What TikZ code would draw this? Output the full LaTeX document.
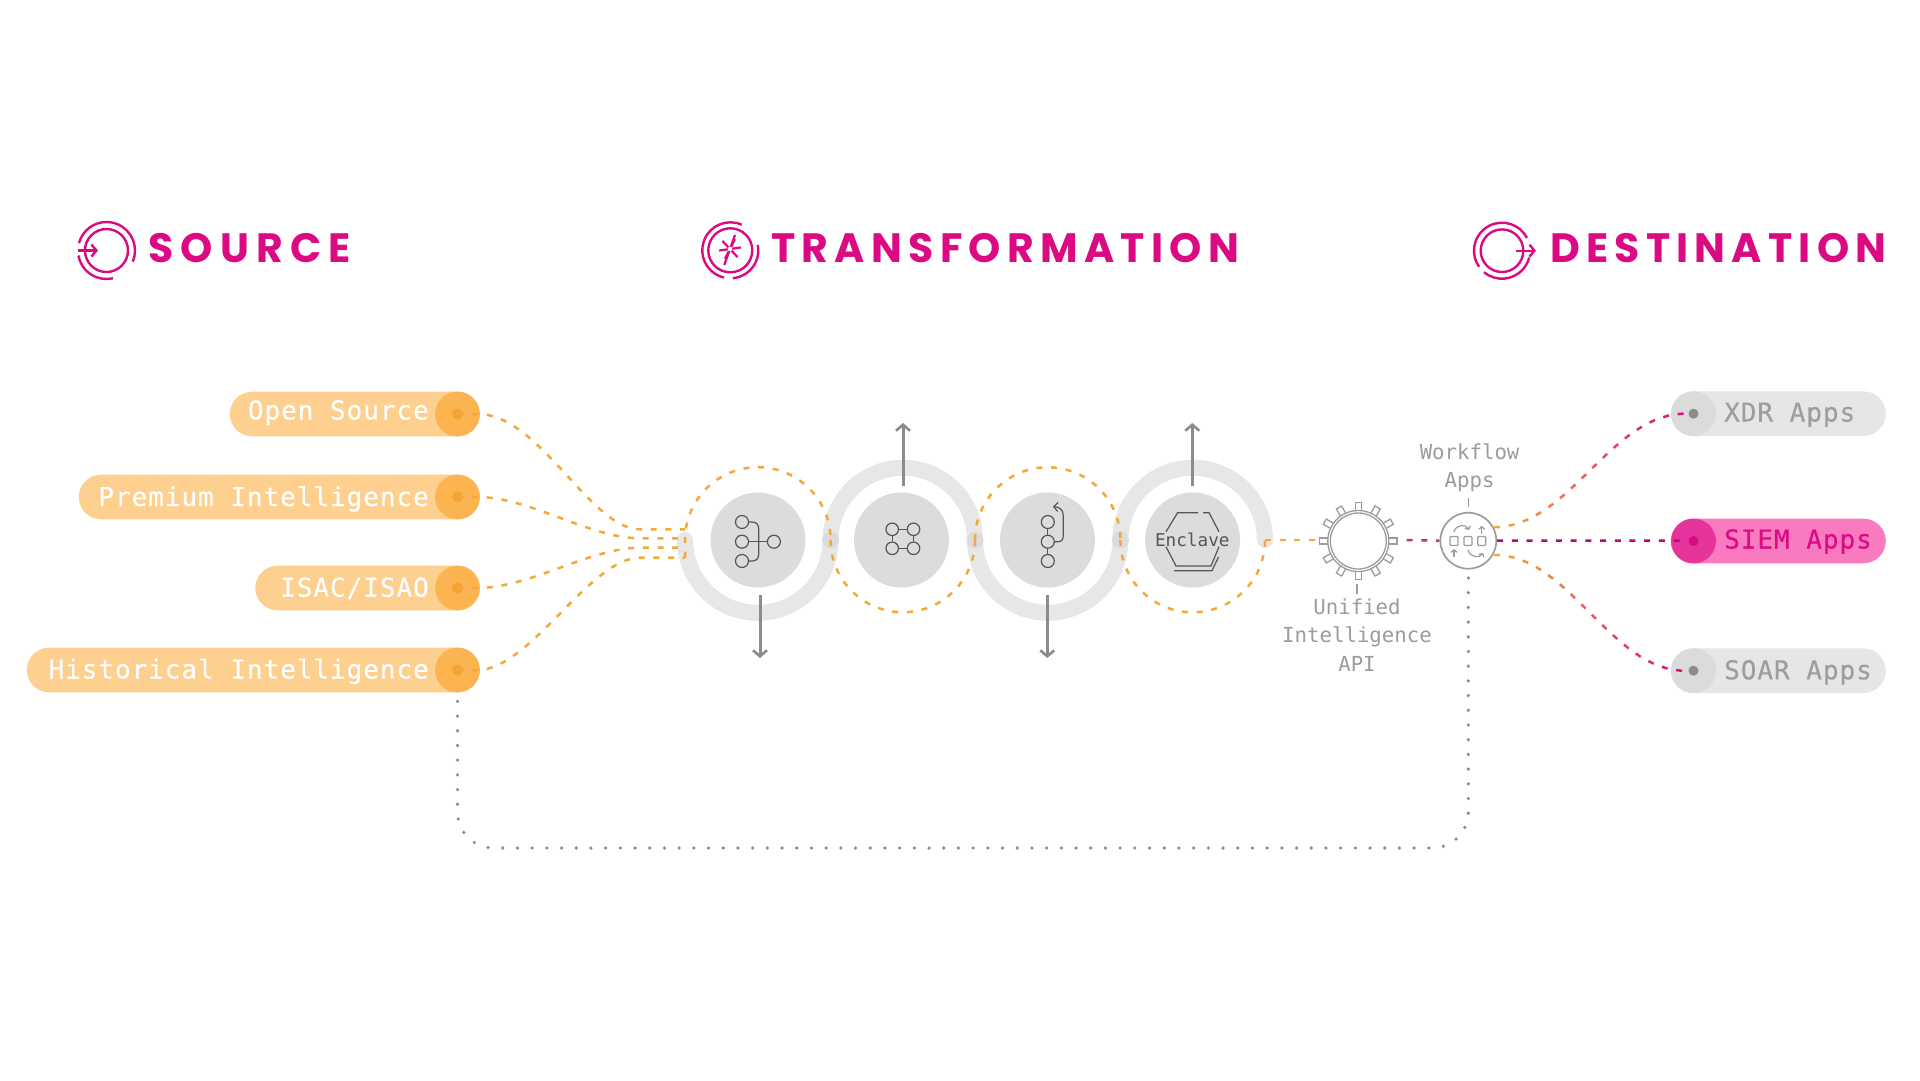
\documentclass[tikz,border=0pt]{standalone}
\usepackage{fontspec}
\usetikzlibrary{arrows.meta,decorations.markings}
\newfontfamily\headfonta[LetterSpace=17.7]{Poppins}
\newfontfamily\headfontb[LetterSpace=15.4]{Poppins}
\newfontfamily\headfontc[LetterSpace=15.2]{Poppins}
\newfontfamily\monofont{DejaVu Sans Mono}
\newfontfamily\pillfont[LetterSpace=3.7,FakeBold=0.25]{DejaVu Sans Mono}
\definecolor{orangec}{HTML}{F4A83A}
\definecolor{pinkc}{HTML}{DC0A82}
\definecolor{ribbon}{HTML}{E7E7E7}
\definecolor{disk}{HTML}{DCDCDC}
\definecolor{arrowgray}{HTML}{8C8C8C}
\definecolor{linegray}{HTML}{9C9C9C}
\definecolor{icongray}{HTML}{555555}
\definecolor{pillor}{HTML}{FDD08F}
\definecolor{capor}{HTML}{FBB44F}
\definecolor{dotor}{HTML}{F6A330}
\definecolor{pillgr}{HTML}{E6E6E6}
\definecolor{capgr}{HTML}{DBDBDB}
\definecolor{pillpk}{HTML}{F97ABF}
\definecolor{cappk}{HTML}{E5349B}
\tikzset{
  head/.style={anchor=base west,inner sep=0pt,text=pinkc},
  logo/.style={draw=pinkc,line width=2.4pt},
  pill/.style={rectangle,rounded corners=22.3pt,minimum height=44.6pt,inner sep=0pt,anchor=east,fill=#1},
  cap/.style={circle,minimum size=44.8pt,inner sep=0pt,fill=#1},
  pdot/.style={circle,minimum size=11pt,inner sep=0pt,fill=#1},
  pilltext/.style={inner sep=0pt,text=#1,font=\pillfont\fontsize{26}{26}\selectfont},
  sidetext/.style={inner sep=0pt,text=linegray,align=center,font=\monofont\fontsize{20.7}{28.3}\selectfont},
  dashline/.style={line width=2.5pt,dash pattern=on 6pt off 8.7pt,draw=#1},
  ribbonarc/.style={draw=ribbon,line width=16pt,line cap=round},
  gdisk/.style={circle,fill=disk,minimum size=95pt,inner sep=0pt},
  joint/.style={circle,fill=disk,minimum size=17pt,inner sep=0pt},
  outarrow/.style={draw=arrowgray,line width=3pt,-{Straight Barb[length=6pt,width=14pt,line width=2.6pt]}},
  icon/.style={draw=icongray,line width=1.2pt},
  iconc/.style={circle,draw=icongray,line width=1.2pt,minimum size=13pt,inner sep=0pt},
  gearline/.style={draw=linegray,line width=1.3pt},
  gradline/.style={postaction={decorate},decoration={markings,
    mark=between positions 0 and 1 step 14.7pt with {
      \pgfmathsetmacro\cmix{min(100,100*(\pgfkeysvalueof{/pgf/decoration/mark info/distance from start}/\pgfdecoratedpathlength))}
      \draw[line width=2.5pt,color=pinkc!\cmix!orangec] (0pt,0pt) -- (6pt,0pt);
    }}},
}
\begin{document}
\begin{tikzpicture}[x=1pt,y=-1pt]
\useasboundingbox (0,0) rectangle (1920,1080);
\fill[white] (0,0) rectangle (1920,1080);

% Headings
\node[head,font=\headfonta\bfseries\fontsize{41}{41}\selectfont] (hsource) at (148,262) {SOURCE};
\node[head,font=\headfontb\bfseries\fontsize{41}{41}\selectfont] (htrans) at (771,262) {TRANSFORMATION};
\node[head,font=\headfontc\bfseries\fontsize{41}{41}\selectfont] (hdest) at (1550,262) {DESTINATION};

% Source logo
\draw[logo] (106.5,250.5) circle[radius=21.5pt];
\draw[logo] (106.5,250.5) ++(-23:28.5pt) arc[start angle=-23,end angle=165,radius=28.5pt];
\draw[logo] (106.5,250.5) ++(190:28.5pt) arc[start angle=190,end angle=283,radius=28.5pt];
\draw[logo,-{Straight Barb[length=5pt,width=12pt]}] (78,250.5) -- (98,250.5);

% Transformation logo
\draw[logo] (730.3,250.3) circle[radius=22pt];
\draw[logo] (730.3,250.3) ++(66:28pt) arc[start angle=66,end angle=257,radius=28pt];
\draw[logo] (730.3,250.3) ++(275:28pt) arc[start angle=275,end angle=371,radius=28pt];
\draw[draw=pinkc,line width=2.2pt] (735,235) -- (724.3,265);
\foreach \a in {0,55,125,180,235,305}{
  \draw[draw=pinkc,line width=2.2pt] (730,249) ++(\a+8:11pt) -- (730,249);
}
\fill[white] (730,249) circle[radius=2.3pt];

% Destination logo
\draw[logo] (1502,250.7) circle[radius=21.3pt];
\draw[logo] (1502,250.7) ++(27:28pt) arc[start angle=27,end angle=215,radius=28pt];
\draw[logo] (1502,250.7) ++(230:28pt) arc[start angle=230,end angle=346,radius=28pt];
\draw[logo,-{Straight Barb[length=5pt,width=12pt]}] (1516,250.7) -- (1536,250.7);

% Dotted return line
\coordinate (dotA) at (1468.3,578);
\coordinate (dotB) at (1468.3,848);
\coordinate (dotC) at (457.5,848);
\draw[draw=arrowgray,line width=3.6pt,line cap=round,dash pattern=on 0pt off 14.7pt,rounded corners=36pt]
  (dotA) -- (dotB) -- (dotC) -- (457.5,670);

% Source pills
\node[pill=pillor,minimum width=250pt] (p1) at (480,414) {};
\node[pill=pillor,minimum width=401pt] (p2) at (480,497) {};
\node[pill=pillor,minimum width=224.5pt] (p3) at (480,588) {};
\node[pill=pillor,minimum width=453pt] (p4) at (480,670) {};
\foreach \n/\y in {1/414,2/497,3/588,4/670}{
  \node[cap=capor] (c\n) at (457.5,\y) {};
  \node[pdot=dotor] (d\n) at (457.5,\y) {};
}
\node[pilltext=white,anchor=base east] (t1) at (429,419.5) {Open Source};
\node[pilltext=white,anchor=base east] (t2) at (429,506) {Premium Intelligence};
\node[pilltext=white,anchor=base east] (t3) at (429,596.7) {ISAC/ISAO};
\node[pilltext=white,anchor=base east] (t4) at (429,678.5) {Historical Intelligence};

% Ribbon
\coordinate (j0) at (685,540);
\coordinate (j1) at (830.6,540);
\coordinate (j2) at (975,540);
\coordinate (j3) at (1120.4,540);
\coordinate (j4) at (1265,540);
\draw[ribbonarc] (j0) arc[start angle=180,end angle=360,radius=72.8pt];
\draw[ribbonarc] (j1) arc[start angle=180,end angle=0,radius=72.2pt];
\draw[ribbonarc] (j2) arc[start angle=180,end angle=360,radius=72.7pt];
\draw[ribbonarc] (j3) arc[start angle=180,end angle=0,radius=72.3pt];
\foreach \j in {j1,j2,j3}{ \node[joint] at (\j) {}; }

% Disks
\node[gdisk] (k1) at (758,540) {};
\node[gdisk] (k2) at (901.5,540) {};
\node[gdisk] (k3) at (1047.5,540) {};
\node[gdisk] (k4) at (1192.6,540) {};

% Dashed arcs
\coordinate (i1) at (685,529.3);
\coordinate (i2) at (685,538.3);
\coordinate (i3) at (685,547.7);
\coordinate (i4) at (685,557.7);
\draw[dashline=orangec] (i4) -- (j0) arc[start angle=180,end angle=0,radius=72.8pt];
\draw[dashline=orangec] (j1) arc[start angle=180,end angle=360,radius=72.2pt];
\draw[dashline=orangec] (j2) arc[start angle=180,end angle=0,radius=72.7pt];
\draw[dashline=orangec] (j3) arc[start angle=180,end angle=360,radius=72.3pt];

% Source connectors
\draw[dashline=orangec] (d1.center) -- ++(20,0) .. controls (540,414) and (590,529.3) .. (640,529.3) -- (i1);
\draw[dashline=orangec] (d2.center) -- ++(20,0) .. controls (530,497) and (590,538.3) .. (640,538.3) -- (i2);
\draw[dashline=orangec] (d3.center) -- ++(20,0) .. controls (530,588) and (590,547.7) .. (640,547.7) -- (i3);
\draw[dashline=orangec] (d4.center) -- ++(20,0) .. controls (530,670) and (590,557.7) .. (640,557.7) -- (i4);

% Output arrows
\coordinate (a1) at (760,595);  \coordinate (a1e) at (760,658);
\coordinate (a2) at (903,486);  \coordinate (a2e) at (903,423);
\coordinate (a3) at (1047.3,595); \coordinate (a3e) at (1047.3,658);
\coordinate (a4) at (1192.3,486); \coordinate (a4e) at (1192.3,423);
\draw[outarrow] (a1) -- (a1e);
\draw[outarrow] (a2) -- (a2e);
\draw[outarrow] (a3) -- (a3e);
\draw[outarrow] (a4) -- (a4e);

% Icon 1
\node[iconc] (m1) at (742,522) {};
\node[iconc] (m2) at (742,541.7) {};
\node[iconc] (m3) at (742,561) {};
\node[iconc] (m4) at (773.9,541.7) {};
\draw[icon] (m2) -- (m4);
\draw[icon] (m1) -- (752,522) .. controls (757,522) and (758.8,525) .. (758.8,530) -- (758.8,553) .. controls (758.8,558) and (757,561) .. (752,561) -- (m3);

% Icon 2
\node[iconc,minimum size=12.5pt] (n1) at (892.2,529.3) {};
\node[iconc,minimum size=12.5pt] (n2) at (913.5,529.3) {};
\node[iconc,minimum size=12.5pt] (n3) at (892.2,548.3) {};
\node[iconc,minimum size=12.5pt] (n4) at (913.5,548.3) {};
\draw[icon] (n1) -- (n2); \draw[icon] (n3) -- (n4);
\draw[icon] (n1) -- (n3); \draw[icon] (n2) -- (n4);

% Icon 3
\node[iconc] (o1) at (1047.8,522) {};
\node[iconc] (o2) at (1047.8,541.7) {};
\node[iconc] (o3) at (1047.8,561) {};
\draw[icon] (o1) -- (o2); \draw[icon] (o2) -- (o3);
\draw[icon,-{Straight Barb[length=4pt,width=9pt]}] (o2) -- (1058,541.7) .. controls (1062,541.7) and (1063.3,539) .. (1063.3,535) -- (1063.3,516) .. controls (1063.3,510) and (1060,507) .. (1053,506.7);

% Enclave
\node[inner sep=0pt,text=icongray,font=\monofont\fontsize{17.7}{17.7}\selectfont] (enc) at (1192.3,540) {Enclave};
\draw[icon] (1166,531.7) -- (1177.6,512.7) -- (1198,512.7);
\draw[icon] (1203,512.7) -- (1209,512.7) -- (1219,531.7);
\draw[icon] (1166,546.7) -- (1176,566) -- (1211,566) -- (1219,546.7);
\draw[icon] (1174,570.7) -- (1212,570.7) -- (1218.5,557);

% Gear
\node[circle,gearline,draw,minimum size=61pt,inner sep=0pt] (gear) at (1358.3,541) {};
\node[circle,gearline,draw,minimum size=56pt,inner sep=0pt] (gearin) at (1358.3,541) {};
\foreach \a in {0,30,...,330}{
  \begin{scope}[shift={(1358.3,541)},rotate=\a]
    \draw[gearline] (30.5pt,-3pt) -- (38.7pt,-3pt) -- (38.7pt,3pt) -- (30.5pt,3pt);
  \end{scope}
}
\coordinate (gwest) at (1322,540);
\coordinate (geast) at (1406.7,540);
\draw[gearline] (1357,584) -- (1357,594);
\node[sidetext] (lab1) at (1357,635) {Unified\\Intelligence\\API};

% Workflow
\node[circle,draw=linegray,line width=1.7pt,minimum size=56pt,inner sep=0pt] (wf) at (1468.3,540.7) {};
\foreach \x in {1454,1468,1481.7}{
  \draw[draw=linegray,line width=1.2pt,rounded corners=1pt] (\x-4,536.5) rectangle (\x+4,545.5);
}
\draw[draw=linegray,line width=1.2pt,-{Straight Barb[length=2.5pt,width=6pt]}] (1454,532) .. controls (1456,524) and (1466,524) .. (1469,530);
\draw[draw=linegray,line width=1.2pt,-{Straight Barb[length=2.5pt,width=6pt]}] (1468,550) .. controls (1470,558) and (1480,558) .. (1483,553);
\draw[draw=linegray,line width=1.2pt,-{Straight Barb[length=2.5pt,width=6pt]}] (1481.7,534) -- (1481.7,526);
\draw[draw=linegray,line width=1.2pt,-{Straight Barb[length=2.5pt,width=6pt]}] (1454,557) -- (1454,549);
\draw[gearline] (1468.7,497.7) -- (1468.7,506.7);
\node[sidetext] (lab2) at (1469.6,468) {Workflow\\Apps};

% Destination pills
\node[pill=pillgr,minimum width=215pt] (q1) at (1886,413.7) {};
\node[pill=pillpk,minimum width=215pt] (q2) at (1886,541) {};
\node[pill=pillgr,minimum width=215pt] (q3) at (1886,670.7) {};
\node[cap=capgr] (r1) at (1693.5,413.7) {};
\node[cap=cappk] (r2) at (1693.5,541) {};
\node[cap=capgr] (r3) at (1693.5,670.7) {};
\coordinate (e1) at (1686,413.7);
\coordinate (e2) at (1686,540.5);
\coordinate (e3) at (1686,670.7);

% Right connectors
\coordinate (w1) at (1494,527);
\coordinate (w3) at (1494,555);
\draw[dashline=orangec] (j4) -- (gwest);
\draw[dashline={orangec!35!pinkc!85!black}] (geast) -- (wf.west);
\draw[dashline={pinkc!85!black}] (wf.east) -- (e2);
\path[gradline] (w1) .. controls (1570,527) and (1610,413.7) .. (e1);
\path[gradline] (w3) .. controls (1570,555) and (1610,670.7) .. (e3);

\node[pdot=arrowgray,minimum size=10pt] (s1) at (1693.5,413.7) {};
\node[pdot=pinkc,minimum size=10pt] (s2) at (1693.5,541) {};
\node[pdot=arrowgray,minimum size=10pt] (s3) at (1693.5,670.7) {};
\node[pilltext=arrowgray!85,anchor=base west] (u1) at (1724,421.5) {XDR Apps};
\node[pilltext=pinkc,anchor=base west] (u2) at (1724,548.5) {SIEM Apps};
\node[pilltext=arrowgray!85,anchor=base west] (u3) at (1724,679.3) {SOAR Apps};
\end{tikzpicture}
\end{document}
